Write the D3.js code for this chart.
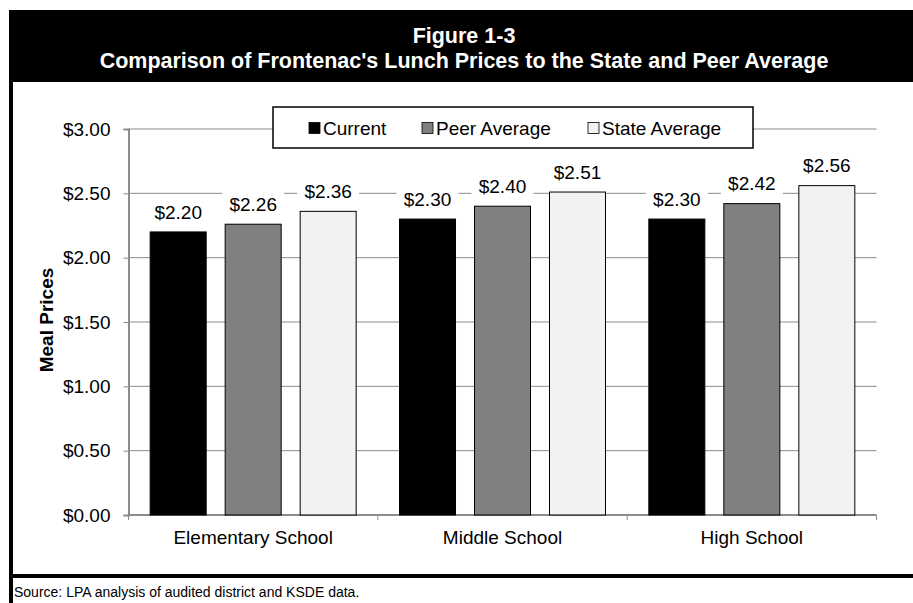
<!DOCTYPE html>
<html>
<head>
<meta charset="utf-8">
<script src="https://cdn.jsdelivr.net/npm/d3@7"></script>
<style>
  body { margin: 0; background: #fff; }
  svg { display: block; font-family: "Liberation Sans", Arial, sans-serif; }
</style>
</head>
<body>
<div id="chart"></div>
<script>
// chart data
var categories = ["Elementary School", "Middle School", "High School"];
var seriesNames = ["Current", "Peer Average", "State Average"];
var current = [2.20, 2.30, 2.30];
var peerAverage = [2.26, 2.40, 2.42];
var stateAverage = [2.36, 2.51, 2.56];
var yTicks = [0, 0.5, 1, 1.5, 2, 2.5, 3];

var seriesValues = [current, peerAverage, stateAverage];
var colors = ["#000000", "#808080", "#f2f2f2"];

var W = 913, H = 603;
var svg = d3.select("#chart").append("svg")
    .attr("width", W)
    .attr("height", H);

// frame: header band, left border, bottom rule
svg.append("rect").attr("x", 9).attr("y", 10).attr("width", W - 9).attr("height", 72).attr("fill", "#000");
svg.append("rect").attr("x", 9).attr("y", 10).attr("width", 4).attr("height", H - 10).attr("fill", "#000");
svg.append("rect").attr("x", 9).attr("y", 574).attr("width", W - 9).attr("height", 4).attr("fill", "#000");

svg.append("text")
    .attr("x", 464).attr("y", 43)
    .attr("text-anchor", "middle")
    .attr("fill", "#fff")
    .style("font-size", "21.5px").style("font-weight", "bold")
    .text("Figure 1-3");
svg.append("text")
    .attr("x", 464).attr("y", 68)
    .attr("text-anchor", "middle")
    .attr("fill", "#fff")
    .style("font-size", "21.5px").style("font-weight", "bold")
    .text("Comparison of Frontenac's Lunch Prices to the State and Peer Average");

svg.append("text")
    .attr("x", 14).attr("y", 597)
    .style("font-size", "14px")
    .attr("fill", "#000")
    .text("Source: LPA analysis of audited district and KSDE data.");

// scales
var plotLeft = 128.5, plotRight = 876.5, plotTop = 129, plotBottom = 515;
var x0 = d3.scaleBand().domain(categories).range([plotLeft, plotRight]).padding(0);
var x1 = d3.scaleBand().domain(seriesNames)
    .range([0, x0.bandwidth()])
    .paddingInner(0.2533)
    .paddingOuter(0.289);
var y = d3.scaleLinear().domain([0, 3]).range([plotBottom, plotTop]);

// gridlines
svg.append("g").selectAll("line")
    .data(yTicks.filter(function(d) { return d > 0; }))
  .enter().append("line")
    .attr("x1", plotLeft).attr("x2", plotRight)
    .attr("y1", function(d) { return y(d); })
    .attr("y2", function(d) { return y(d); })
    .attr("stroke", "#8c8c8c").attr("stroke-width", 1);

// y axis
var yAxis = svg.append("g")
    .attr("transform", "translate(" + plotLeft + ",0)")
    .call(d3.axisLeft(y).tickValues(yTicks).tickSize(5).tickPadding(13)
      .tickFormat(function(d) { return "$" + d3.format(".2f")(d); }));
yAxis.select(".domain").attr("stroke", "#8c8c8c").attr("stroke-width", 2);
yAxis.selectAll(".tick line").attr("stroke", "#8c8c8c");
yAxis.selectAll(".tick text")
    .style("font-size", "19px").attr("fill", "#000")
    .style("font-family", "Liberation Sans, Arial, sans-serif");

svg.append("text")
    .attr("transform", "translate(53,320) rotate(-90)")
    .attr("text-anchor", "middle")
    .style("font-size", "19px").style("font-weight", "bold")
    .text("Meal Prices");

// x axis
var xAxis = svg.append("g")
    .attr("transform", "translate(0," + plotBottom + ")");
xAxis.append("line")
    .attr("x1", plotLeft).attr("x2", plotRight)
    .attr("stroke", "#8c8c8c").attr("stroke-width", 2);
xAxis.selectAll(".cat-tick")
    .data(categories.concat(["end"]))
  .enter().append("line")
    .attr("class", "cat-tick")
    .attr("x1", function(d, i) { return i < categories.length ? x0(d) : plotRight; })
    .attr("x2", function(d, i) { return i < categories.length ? x0(d) : plotRight; })
    .attr("y1", 0).attr("y2", 5)
    .attr("stroke", "#8c8c8c");
xAxis.selectAll(".cat-label")
    .data(categories)
  .enter().append("text")
    .attr("x", function(d) { return x0(d) + x0.bandwidth() / 2; })
    .attr("y", 29)
    .attr("text-anchor", "middle")
    .style("font-size", "19px")
    .text(function(d) { return d; });

// bars
var groups = svg.append("g").selectAll("g")
    .data(categories)
  .enter().append("g")
    .attr("transform", function(d) { return "translate(" + x0(d) + ",0)"; });

var barData = function(c, ci) {
  return seriesNames.map(function(s, si) {
    return { series: s, si: si, value: seriesValues[si][ci] };
  });
};

groups.selectAll("rect")
    .data(barData)
  .enter().append("rect")
    .attr("x", function(d) { return x1(d.series); })
    .attr("y", function(d) { return y(d.value); })
    .attr("width", x1.bandwidth())
    .attr("height", function(d) { return plotBottom - y(d.value); })
    .attr("fill", function(d) { return colors[d.si]; })
    .attr("stroke", "#000").attr("stroke-width", 1);

// value labels with white boxes
var labels = groups.selectAll(".lbl")
    .data(barData)
  .enter().append("g")
    .attr("class", "lbl")
    .attr("transform", function(d) {
      return "translate(" + (x1(d.series) + x1.bandwidth() / 2) + "," + (y(d.value) - 20) + ")";
    });
labels.append("rect")
    .attr("x", -31).attr("y", -13)
    .attr("width", 62).attr("height", 26)
    .attr("fill", "#fff");
labels.append("text")
    .attr("text-anchor", "middle")
    .attr("dy", "0.36em")
    .style("font-size", "19px")
    .text(function(d) { return "$" + d3.format(".2f")(d.value); });

// legend
var legend = svg.append("g");
legend.append("rect")
    .attr("x", 273).attr("y", 107)
    .attr("width", 480).attr("height", 41)
    .attr("fill", "#fff").attr("stroke", "#000").attr("stroke-width", 1.5);
var legendX = [309, 422, 588];
var items = legend.selectAll(".item")
    .data(seriesNames)
  .enter().append("g")
    .attr("class", "item")
    .attr("transform", function(d, i) { return "translate(" + legendX[i] + ",128)"; });
items.append("rect")
    .attr("x", 0).attr("y", -5.5)
    .attr("width", 11).attr("height", 11)
    .attr("fill", function(d, i) { return colors[i]; })
    .attr("stroke", "#000").attr("stroke-width", 0.8);
items.append("text")
    .attr("x", 14).attr("dy", "0.36em")
    .style("font-size", "19px")
    .text(function(d) { return d; });
</script>
</body>
</html>
